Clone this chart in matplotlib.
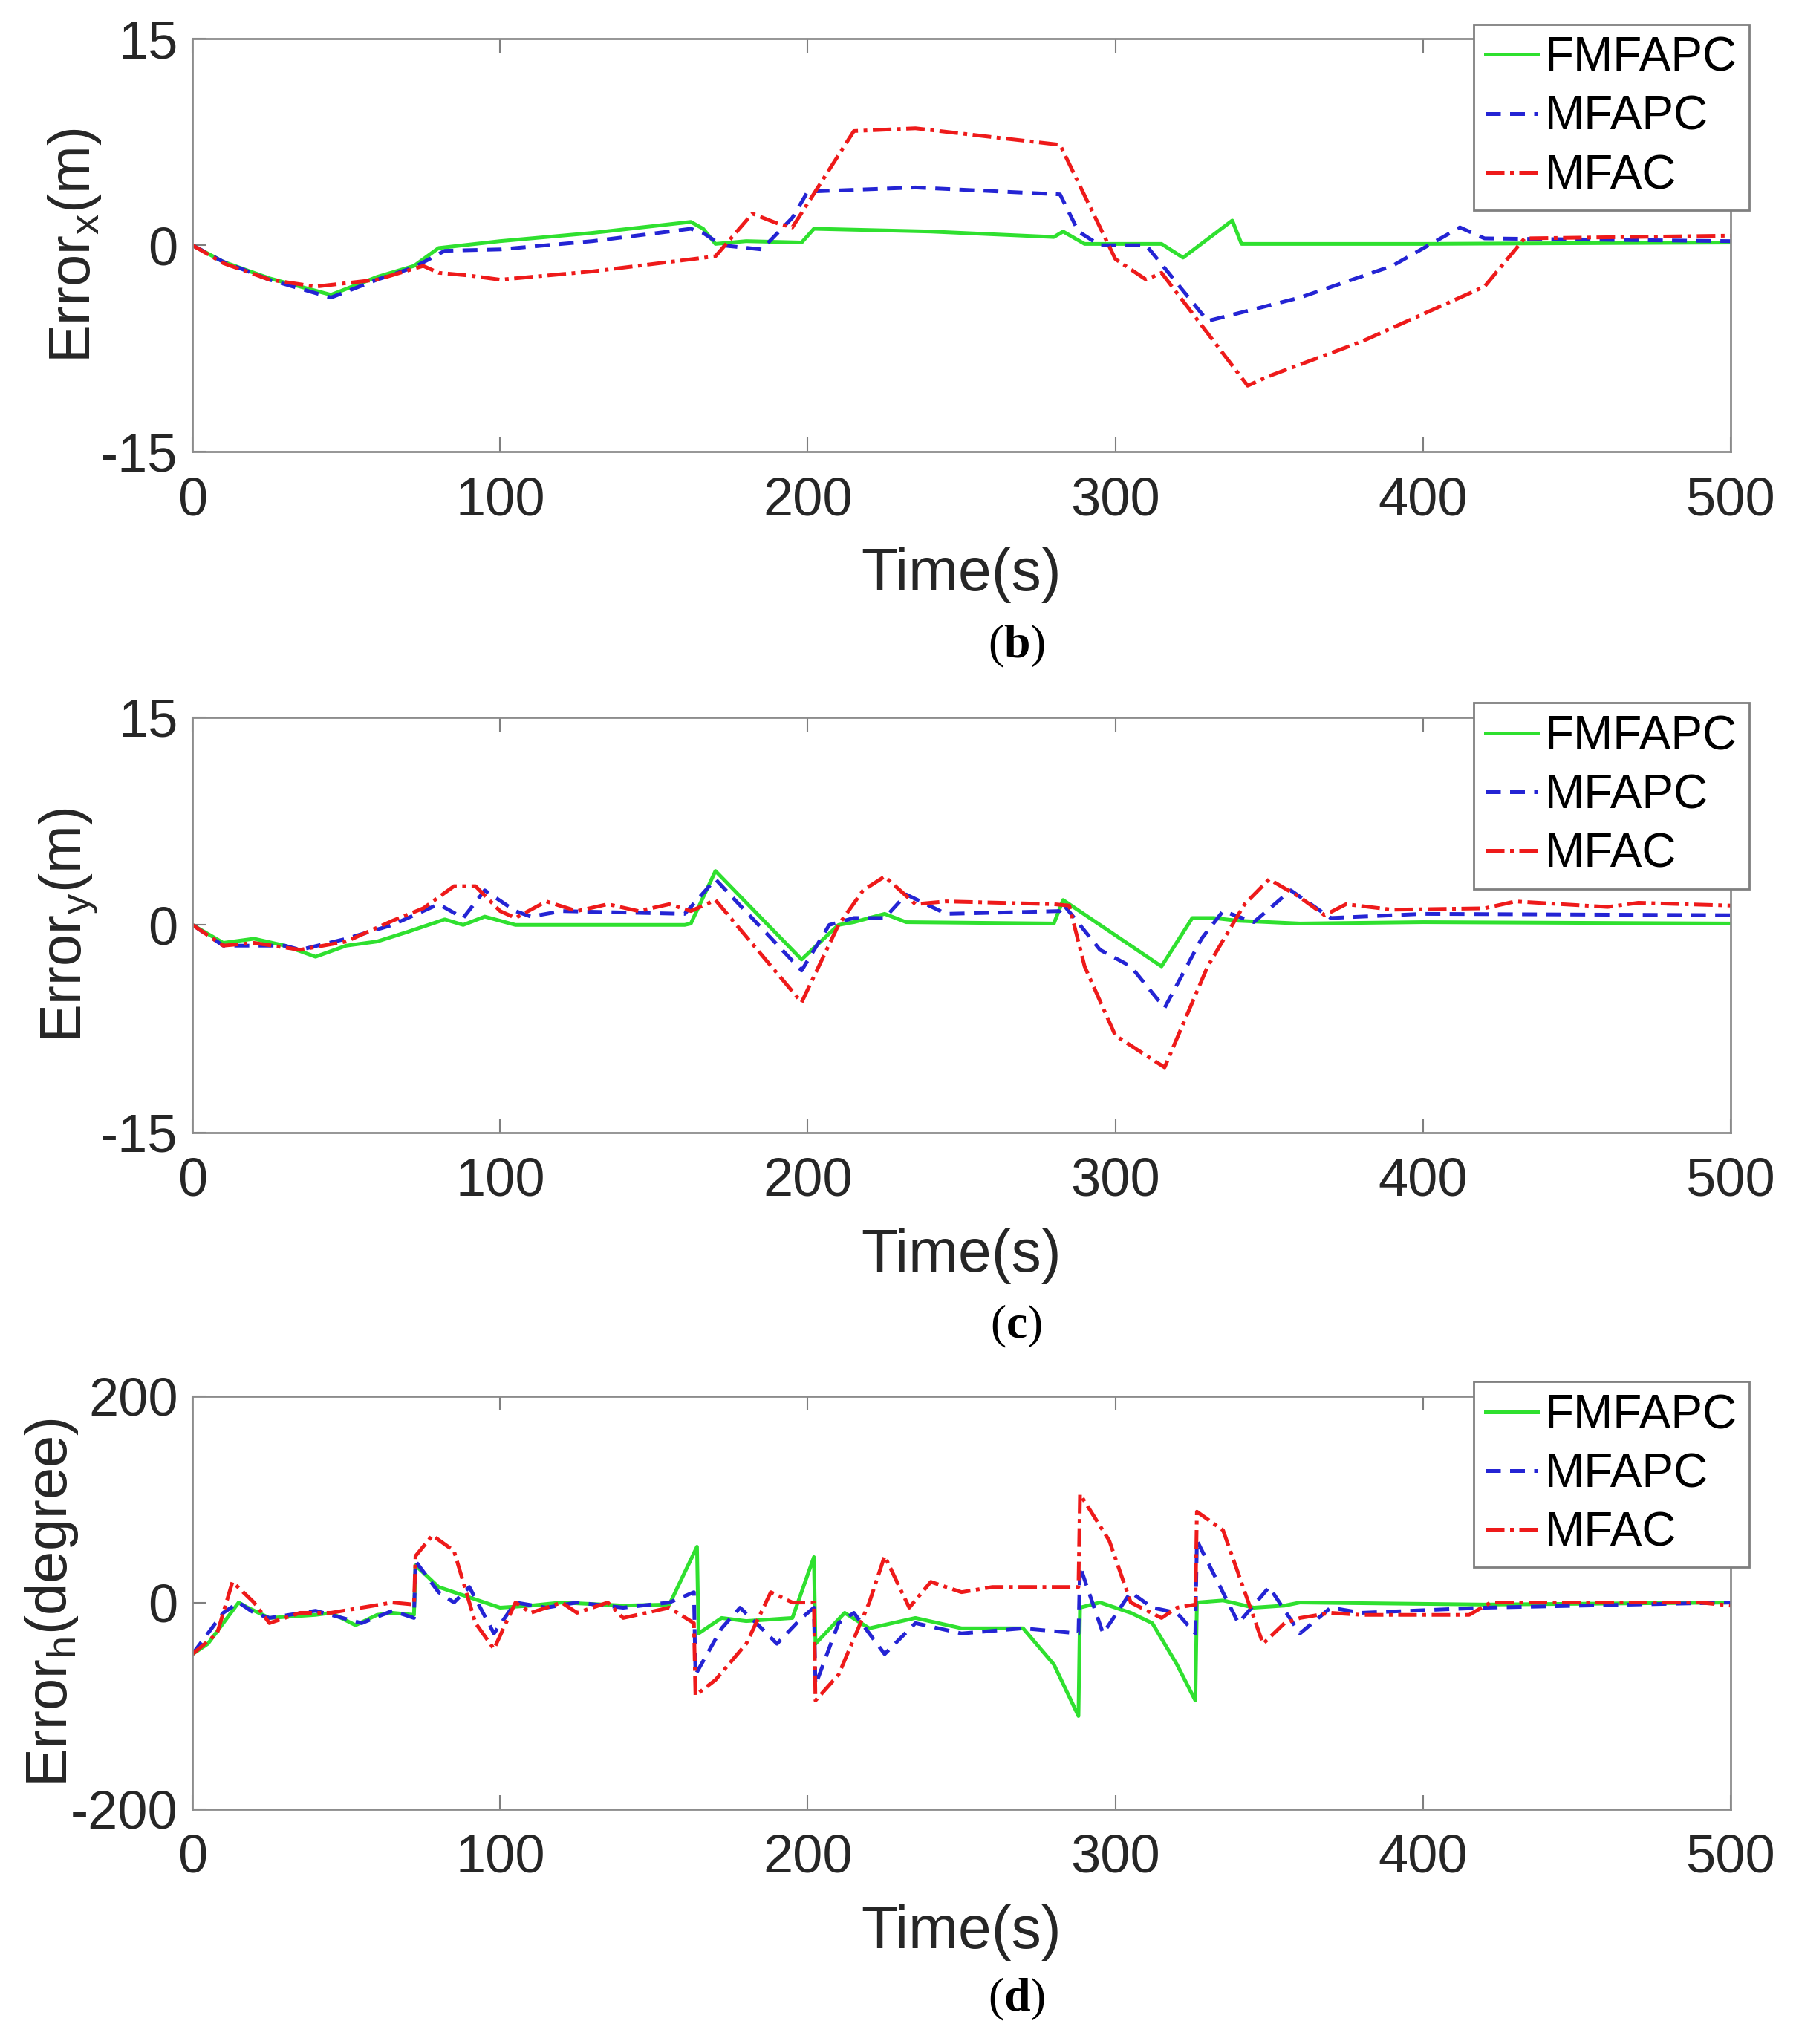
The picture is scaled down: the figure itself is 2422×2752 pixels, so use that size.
import numpy as np
import matplotlib.pyplot as plt

plt.rcParams['font.family'] = ['Liberation Sans', 'DejaVu Sans']
plt.rcParams['mathtext.fontset'] = 'custom'
plt.rcParams['mathtext.rm'] = 'Liberation Sans'
plt.rcParams['mathtext.it'] = 'Liberation Sans'
plt.rcParams['mathtext.bf'] = 'Liberation Serif:bold'
plt.rcParams['axes.unicode_minus'] = False

## data ##
# (b) Error_x
tx_f = [0, 10, 25, 45, 60, 72, 80, 100, 130, 162, 166, 170, 180, 198, 202, 240, 280, 283, 290, 315, 322, 338, 341, 345, 360, 400, 500]
ex_f = [0, -1.2, -2.4, -3.6, -2.3, -1.5, -0.2, 0.3, 0.9, 1.7, 1.2, 0.1, 0.3, 0.2, 1.2, 1.0, 0.6, 1.0, 0.1, 0.1, -0.9, 1.8, 0.1, 0.1, 0.1, 0.1, 0.2]
tx_b = [0, 10, 25, 45, 60, 72, 82, 100, 130, 162, 166, 172, 185, 195, 200, 235, 282, 288, 295, 310, 330, 360, 390, 412, 420, 500]
ex_b = [0, -1.2, -2.5, -3.8, -2.5, -1.6, -0.4, -0.3, 0.3, 1.2, 0.9, 0.0, -0.3, 2.0, 3.9, 4.2, 3.7, 1.0, 0.0, 0.0, -5.5, -3.8, -1.5, 1.3, 0.5, 0.3]
tx_r = [0, 10, 25, 40, 60, 75, 80, 90, 100, 130, 170, 182, 190, 195, 215, 235, 282, 300, 310, 315, 343, 350, 380, 420, 433, 500]
ex_r = [0, -1.3, -2.5, -3.0, -2.5, -1.5, -2.0, -2.2, -2.5, -1.9, -0.8, 2.3, 1.6, 1.3, 8.3, 8.5, 7.3, -1.0, -2.5, -2.0, -10.2, -9.5, -7.0, -3.0, 0.5, 0.7]

# (c) Error_y
ty_f = [0, 10, 20, 30, 40, 50, 60, 70, 82, 88, 95, 105, 130, 160, 162, 170, 198, 210, 215, 225, 232, 280, 283, 315, 325, 332, 340, 360, 400, 500]
ey_f = [0, -1.3, -1.0, -1.5, -2.3, -1.5, -1.2, -0.5, 0.4, 0.0, 0.6, 0.0, 0.0, 0.0, 0.1, 3.9, -2.5, 0.0, 0.2, 0.8, 0.2, 0.1, 1.8, -3.0, 0.5, 0.5, 0.3, 0.1, 0.2, 0.1]
ty_b = [0, 10, 30, 35, 50, 65, 80, 88, 95, 105, 110, 120, 160, 170, 198, 207, 215, 225, 232, 245, 282, 283, 295, 305, 316, 328, 335, 345, 357, 370, 400, 500]
ey_b = [0, -1.5, -1.5, -1.8, -1.0, 0.0, 1.5, 0.5, 2.5, 1.0, 0.6, 1.0, 0.8, 3.3, -3.3, 0.0, 0.5, 0.5, 2.2, 0.8, 1.0, 1.5, -1.8, -3.0, -6.0, -1.0, 1.0, 0.2, 2.5, 0.5, 0.8, 0.7]
ty_r = [0, 10, 20, 35, 50, 65, 75, 85, 92, 100, 105, 115, 125, 135, 145, 155, 162, 170, 198, 210, 218, 225, 235, 245, 280, 285, 290, 300, 316, 330, 342, 350, 360, 368, 375, 390, 420, 430, 460, 470, 500]
ey_r = [0, -1.5, -1.3, -1.8, -1.2, 0.3, 1.2, 2.8, 2.8, 1.0, 0.5, 1.7, 1.0, 1.5, 1.0, 1.5, 1.0, 1.8, -5.6, 0.0, 2.5, 3.5, 1.5, 1.7, 1.5, 1.4, -3.0, -8.0, -10.3, -3.0, 1.5, 3.3, 2.0, 0.7, 1.5, 1.1, 1.2, 1.7, 1.3, 1.6, 1.4]

# (d) Error_h
th_f = [0, 5, 15, 18, 25, 40, 45, 53, 60, 65, 72, 72.5, 80, 90, 100, 110, 120, 140, 155, 164, 164.5, 172, 180, 195, 202, 202.5, 212, 220, 235, 250, 270, 280, 288, 288.5, 295, 305, 312, 320, 326, 326.5, 335, 345, 355, 360, 420, 500]
eh_f = [-50, -40, 0, -5, -15, -12, -10, -22, -12, -10, -12, 36, 15, 5, -5, -3, 0, -3, -2, 54, -30, -15, -18, -15, 44, -40, -10, -25, -15, -25, -25, -60, -110, -5, 0, -10, -20, -60, -95, 0, 2, -5, -3, 0, -2, 0]
th_b = [0, 10, 15, 20, 25, 40, 55, 65, 72, 72.5, 80, 85, 90, 98, 105, 115, 125, 140, 155, 163, 163.5, 172, 178, 185, 190, 198, 202, 202.5, 210, 215, 225, 235, 250, 270, 288, 288.5, 296, 305, 312, 320, 326, 326.5, 340, 350, 360, 370, 380, 420, 500]
eh_b = [-50, -10, 0, -10, -15, -8, -20, -8, -15, 40, 10, 0, 15, -30, 0, -5, 0, -5, 0, 10, -70, -25, -5, -25, -40, -15, -5, -80, -20, -10, -50, -20, -30, -25, -30, 35, -30, 10, -5, -10, -30, 60, -20, 15, -30, -5, -10, -5, 0]
th_r = [0, 8, 13, 20, 25, 35, 45, 55, 65, 72, 72.5, 78, 85, 92, 98, 105, 110, 115, 120, 125, 135, 140, 155, 163, 163.5, 170, 180, 188, 195, 202, 202.5, 210, 220, 225, 233, 240, 250, 260, 288, 288.5, 298, 305, 315, 320, 326, 326.5, 335, 348, 355, 360, 370, 380, 415, 422, 490, 500]
eh_r = [-50, -30, 20, 0, -20, -10, -10, -5, 0, -2, 45, 65, 50, -20, -45, 0, -10, -5, 0, -10, 0, -15, -5, -20, -90, -75, -40, 10, 0, 0, -95, -70, 0, 45, -5, 20, 10, 15, 15, 105, 60, 0, -15, -5, -2, 88, 70, -40, -20, -15, -10, -12, -12, 0, 0, -3]

labels = ['FMFAPC', 'MFAPC', 'MFAC']
xticks = [0, 100, 200, 300, 400, 500]

panels = [
    (tx_f, ex_f, tx_b, ex_b, tx_r, ex_r, r'Error$_\mathrm{x}$(m)', [-15, 0, 15], 'b'),
    (ty_f, ey_f, ty_b, ey_b, ty_r, ey_r, r'Error$_\mathrm{y}$(m)', [-15, 0, 15], 'c'),
    (th_f, eh_f, th_b, eh_b, th_r, eh_r, r'Error$_\mathrm{h}$(degree)', [-200, 0, 200], 'd'),
]

fig = plt.figure(figsize=(24.22, 27.52), dpi=100, facecolor='white')
rects = [[0.107, 0.779, 0.855, 0.202],
         [0.107, 0.446, 0.855, 0.203],
         [0.107, 0.115, 0.855, 0.202]]
cap_y = [0.684, 0.351, 0.022]
lab_x = [-0.058, -0.060, -0.073]

for i, (tf, ef, tb, eb, tr, er, ylab, yt, cap) in enumerate(panels):
    ax = fig.add_axes(rects[i])
    ax.plot(tf, ef, color='#2fe02f', lw=3.6, ls='-', label=labels[0])
    ax.plot(tb, eb, color='#2424d4', lw=3.6, ls=(0, (4, 2.5)), label=labels[1])
    ax.plot(tr, er, color='#ee1a1a', lw=3.6, ls=(0, (5, 1.5, 1, 1.5)), label=labels[2])
    ax.set_xlim(0, 500)
    ax.set_ylim(yt[0], yt[-1])
    ax.set_xticks(xticks)
    ax.set_yticks(yt)
    ax.tick_params(direction='in', length=14, width=1.5, top=True, right=False,
                   labelsize=52, colors='#7f7f7f', labelcolor='#262626', pad=14)
    ax.tick_params(axis='x', pad=24)
    for s in ax.spines.values():
        s.set_color('#8c8c8c')
        s.set_linewidth(2)
    ax.set_xlabel('Time(s)', fontsize=58, color='#262626', labelpad=20)
    ax.set_ylabel(ylab, fontsize=56, color='#262626')
    ax.yaxis.set_label_coords(lab_x[i], 0.5)
    leg = ax.legend(loc='upper right', bbox_to_anchor=(1.012, 1.035), fontsize=46,
                    frameon=True, fancybox=False, framealpha=1, edgecolor='#7f7f7f',
                    handlelength=1.1, handletextpad=0.15, borderpad=0.25,
                    labelspacing=0.3, borderaxespad=0.0)
    leg.get_frame().set_linewidth(2)
    fig.text(0.565, cap_y[i], '(' + r'$\mathbf{' + cap + '}$' + ')', fontsize=46,
             family='Liberation Serif', ha='center', va='center', color='black')

fig.savefig('out.png', dpi=100)
